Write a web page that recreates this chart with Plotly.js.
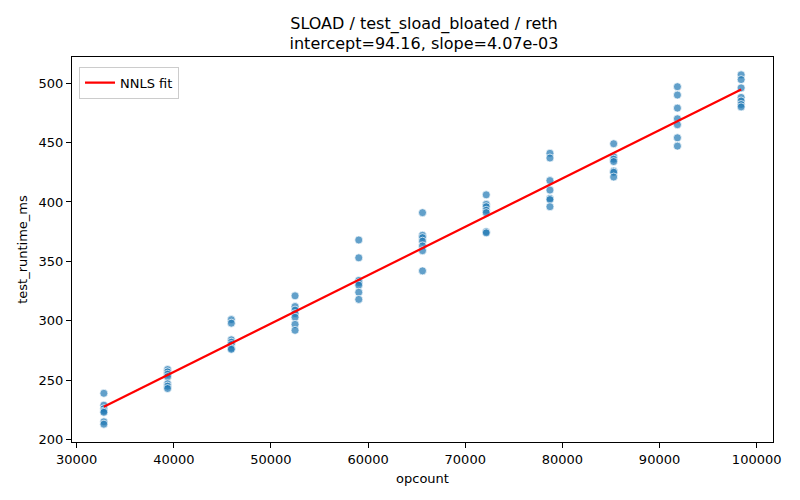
<!DOCTYPE html>
<html>
<head>
<meta charset="utf-8">
<script src="https://cdn.plot.ly/plotly-3.0.1.min.js"></script>
<style>
  html, body { margin: 0; padding: 0; background: #fff; }
  #plot { width: 800px; height: 500px; }
</style>
</head>
<body>
<div id="plot"></div>
<script>
// opcount levels (one column of runs each)
var opcounts = [32800, 39360, 45920, 52480, 59040, 65600, 72160, 78720, 85280, 91840, 98400];

// runtime samples per opcount level
var runtimes = [
    [239, 229, 226, 224, 223, 215, 213],
    [259, 257, 255, 253, 247, 245, 243],
    [301, 298, 284, 282, 280, 277, 276],
    [321, 312, 309, 306, 303, 297, 292],
    [368, 353, 334, 332, 330, 324, 318],
    [391, 372, 370, 367, 363, 359, 342],
    [406, 398, 396, 393, 391, 375, 374],
    [441, 437, 418, 410, 403, 402, 396],
    [449, 438, 436, 434, 426, 425, 421],
    [497, 490, 479, 470, 465, 454, 447],
    [507, 503, 496, 488, 485, 482, 480]
];

var intercept = 94.16;
var slope = 4.07e-3;

var xs = [], ys = [];
opcounts.forEach(function(x, i) {
    runtimes[i].forEach(function(y) {
        xs.push(x);
        ys.push(y);
    });
});

var xMin = opcounts[0], xMax = opcounts[opcounts.length - 1];
var fitX = [xMin, xMax];
var fitY = fitX.map(function(x) { return intercept + slope * x; });

var font = 'DejaVu Sans, sans-serif';

var axisCommon = {
    showline: true,
    linecolor: '#000',
    linewidth: 1,
    mirror: true,
    ticks: 'outside',
    ticklen: 5,
    tickcolor: '#000',
    showgrid: false,
    zeroline: false,
    tickfont: { family: font, size: 13, color: '#000' }
};

Plotly.newPlot('plot', [{
    x: xs,
    y: ys,
    mode: 'markers',
    type: 'scatter',
    marker: {
        color: 'rgba(31,119,180,0.7)',
        size: 8,
        line: { color: '#fff', width: 0.7 }
    },
    showlegend: false,
    hoverinfo: 'x+y'
}, {
    x: fitX,
    y: fitY,
    mode: 'lines',
    type: 'scatter',
    line: { color: 'red', width: 2.2 },
    name: 'NNLS fit'
}], {
    width: 800,
    height: 500,
    margin: { l: 72, r: 27, t: 57, b: 58 },
    paper_bgcolor: '#fff',
    plot_bgcolor: '#fff',
    font: { family: font, size: 13, color: '#000' },
    title: {
        text: 'SLOAD / test_sload_bloated / reth<br>intercept=94.16, slope=4.07e-03',
        font: { family: font, size: 16, color: '#000' },
        x: 0.53,
        xanchor: 'center',
        yref: 'container',
        y: 0.943,
        yanchor: 'middle'
    },
    xaxis: Object.assign({}, axisCommon, {
        range: [29520, 101680],
        tickvals: [30000, 40000, 50000, 60000, 70000, 80000, 90000, 100000],
        tickformat: 'd',
        title: { text: 'opcount', font: { family: font, size: 13, color: '#000' }, standoff: 8 }
    }),
    yaxis: Object.assign({}, axisCommon, {
        range: [198, 522],
        tickvals: [200, 250, 300, 350, 400, 450, 500],
        title: { text: 'test_runtime_ms', font: { family: font, size: 13, color: '#000' }, standoff: 8 }
    }),
    legend: {
        x: 0.01,
        y: 0.975,
        xanchor: 'left',
        yanchor: 'top',
        bgcolor: 'rgba(255,255,255,0.8)',
        bordercolor: '#ccc',
        borderwidth: 1,
        font: { family: font, size: 13, color: '#000' }
    }
}, { displayModeBar: false, staticPlot: true });
</script>
</body>
</html>
